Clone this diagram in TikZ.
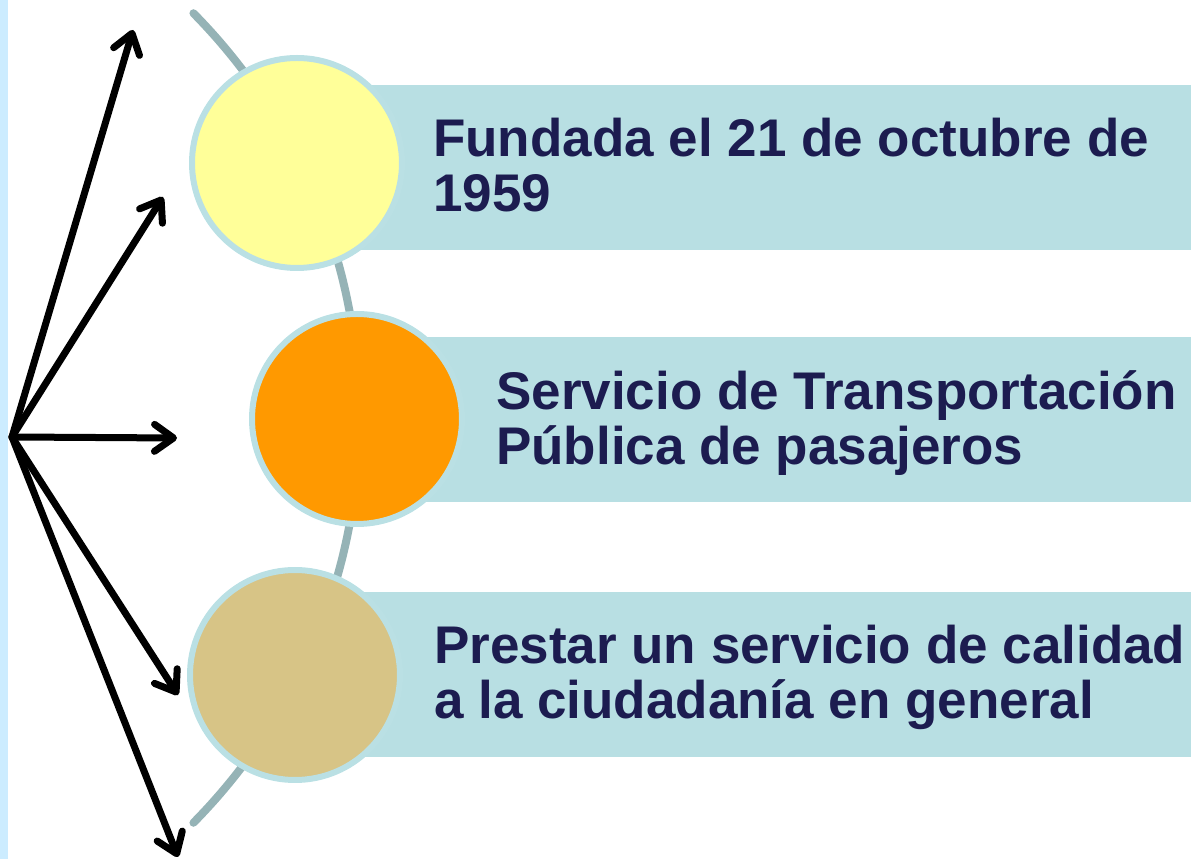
\documentclass[tikz,border=0pt]{standalone}
\usepackage{fontspec}
\setmainfont{Liberation Sans}
\usetikzlibrary{positioning, arrows.meta}
\definecolor{bandblue}{HTML}{B8DFE3}
\definecolor{ringblue}{HTML}{BAE0E4}
\definecolor{spinegrey}{HTML}{95B3B6}
\definecolor{stripblue}{HTML}{CCECFF}
\definecolor{textnavy}{HTML}{1C1C50}
\definecolor{discyellow}{HTML}{FFFF99}
\definecolor{discorange}{HTML}{FF9900}
\definecolor{disctan}{HTML}{D7C486}
\tikzset{%
  spoke/.style={draw=black, line width=7pt, line cap=round, -{Straight Barb[length=19pt,width=27pt,round]}},
  disc/.style={draw=ringblue, line width=6pt, circle, minimum size=210pt, inner sep=0pt},
  band/.style={fill=bandblue, minimum height=165pt, inner sep=0pt, anchor=west},
  txt/.style={text=textnavy, font=\fontsize{53}{55}\selectfont\bfseries, align=left, inner sep=0pt, anchor=base west},
  spine/.style={draw=spinegrey, line width=8pt, line cap=round}
}

\begin{document}
\begin{tikzpicture}[x=1pt, y=1pt]
  \useasboundingbox (0,0) rectangle (1191,859);
  \fill[stripblue] (0,0) rectangle (8,859);
  \draw[spine] (-217,441) ++(44.6:576.5) arc[start angle=44.6, end angle=-44.6, radius=576.5];
  \node[band, minimum width=894pt] (b1) at (297,691)   {};
  \node[band, minimum width=834pt] (b2) at (357,439.5) {};
  \node[band, minimum width=896pt] (b3) at (295,184.5) {};
  \node[disc, fill=discyellow] (c1) at (297,696) {};
  \node[disc, fill=discorange] (c2) at (357,440) {};
  \node[disc, fill=disctan]    (c3) at (295,184) {};
  % base anchor sits on the last line
  \node[txt] (t1) at (433,647) {Fundada el 21 de octubre de\\1959};
  \node[txt] (t2) at (496,394) {Servicio de Transportación\\Pública de pasajeros};
  \node[txt] (t3) at (434,140) {Prestar un servicio de calidad\\a la ciudadanía en general};
  \coordinate (hub) at (12,422);
  \coordinate (a1)  at (133,829);
  \coordinate (a2)  at (163,662);
  \coordinate (a3)  at (177,421);
  \coordinate (a4)  at (178,164);
  \coordinate (a5)  at (178,2);
  \draw[spoke] (hub) -- (a1);
  \draw[spoke] (hub) -- (a2);
  \draw[spoke] (hub) -- (a3);
  \draw[spoke] (hub) -- (a4);
  \draw[spoke] (hub) -- (a5);
\end{tikzpicture}
\end{document}
